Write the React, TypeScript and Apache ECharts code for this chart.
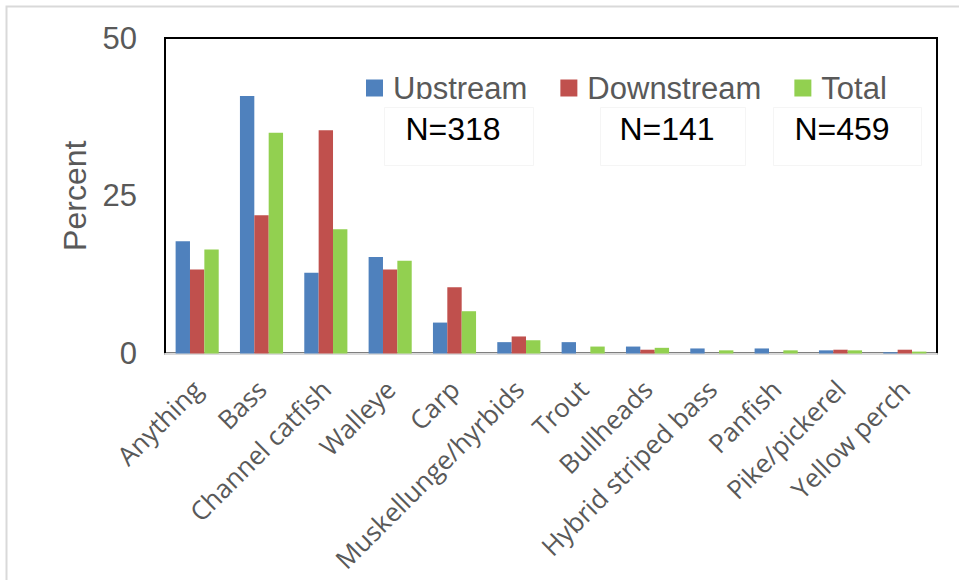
import React, { useEffect, useRef } from "react";
import * as echarts from "echarts";

// Species targeted by anglers, percent of respondents
const categories = [
  "Anything",
  "Bass",
  "Channel catfish",
  "Walleye",
  "Carp",
  "Muskellunge/hyrbids",
  "Trout",
  "Bullheads",
  "Hybrid striped bass",
  "Panfish",
  "Pike/pickerel",
  "Yellow perch",
];

const upstream = [17.8, 40.8, 12.8, 15.3, 4.9, 1.8, 1.8, 1.1, 0.8, 0.8, 0.5, 0.2];
const downstream = [13.3, 21.9, 35.4, 13.3, 10.5, 2.7, 0, 0.6, 0, 0, 0.6, 0.6];
const total = [16.5, 35.0, 19.7, 14.7, 6.7, 2.1, 1.1, 0.9, 0.5, 0.5, 0.5, 0.3];

const seriesNames = ["Upstream", "Downstream", "Total"];
const sampleSizes = ["N=318", "N=141", "N=459"];
const yTicks = [0, 25, 50];

const COLORS = ["#4F81BD", "#C0504D", "#92D050"];
const GREY_TEXT = "#595959";
const SANS = "'Liberation Sans', Arial, sans-serif";
const LABEL_FONT = "'Open Sans', 'Noto Sans', sans-serif";

export default function App() {
  const ref = useRef<HTMLDivElement>(null);

  useEffect(() => {
    if (!ref.current) return;
    const chart = echarts.init(ref.current, null, { renderer: "svg" });

    const seriesData = [upstream, downstream, total];

    // white text boxes holding the sample sizes, laid over the legend row
    const boxes = [
      { x: 383, w: 152, cx: 453 },
      { x: 599, w: 148, cx: 667 },
      { x: 772, w: 151, cx: 842 },
    ];

    chart.setOption({
      animation: false,
      backgroundColor: "#ffffff",
      grid: {
        left: 165,
        top: 38,
        width: 772,
        height: 315.5,
        show: true,
        borderColor: "#000000",
        borderWidth: 2,
        backgroundColor: "transparent",
      },
      legend: {
        data: seriesNames,
        left: 366,
        top: 71,
        padding: 0,
        itemWidth: 17,
        itemHeight: 17,
        itemGap: 33,
        icon: "rect",
        textStyle: {
          fontFamily: SANS,
          fontSize: 31,
          color: GREY_TEXT,
          padding: [0, 0, 0, 5],
          lineHeight: 34,
        },
      },
      xAxis: {
        type: "category",
        data: categories,
        axisLine: { show: true, lineStyle: { color: "#d9d9d9", width: 2 } },
        axisTick: { show: false },
        axisLabel: {
          rotate: 45,
          interval: 0,
          margin: 31,
          fontFamily: LABEL_FONT,
          fontSize: 26,
          color: GREY_TEXT,
        },
        splitLine: { show: false },
      },
      yAxis: {
        type: "value",
        min: yTicks[0],
        max: yTicks[yTicks.length - 1],
        interval: 25,
        name: "Percent",
        nameLocation: "middle",
        nameGap: 74,
        nameRotate: 90,
        nameTextStyle: {
          fontFamily: SANS,
          fontSize: 32,
          color: GREY_TEXT,
        },
        axisLine: { show: true, lineStyle: { color: "#000000", width: 2 } },
        axisTick: { show: false },
        axisLabel: {
          margin: 28,
          fontFamily: SANS,
          fontSize: 31,
          color: GREY_TEXT,
        },
        splitLine: { show: false },
      },
      series: seriesNames.map((name, i) => ({
        name,
        type: "bar",
        data: seriesData[i],
        barGap: "0%",
        barCategoryGap: "33%",
        itemStyle: { color: COLORS[i] },
      })),
      graphic: [
        {
          type: "rect",
          z: 0,
          silent: true,
          shape: { x: 6.5, y: 6.5, width: 960, height: 580 },
          style: { fill: "none", stroke: "#d9d9d9", lineWidth: 2 },
        },
        ...boxes.map((b) => ({
          type: "rect",
          z: 20,
          silent: true,
          shape: { x: b.x, y: 99, width: b.w, height: 67 },
          style: { fill: "#ffffff", stroke: "none" },
        })),
        ...boxes.map((b) => ({
          type: "rect",
          z: 21,
          silent: true,
          shape: { x: b.x + 1.5, y: 107.5, width: b.w - 3, height: 58 },
          style: { fill: "none", stroke: "#f5f5f5", lineWidth: 1 },
        })),
        ...boxes.map((b, i) => ({
          type: "text",
          z: 22,
          silent: true,
          x: b.cx,
          y: 128.7,
          style: {
            text: sampleSizes[i],
            fill: "#000000",
            fontFamily: SANS,
            fontSize: 32,
            align: "center",
            verticalAlign: "middle",
          },
        })),
      ],
    });

    return () => chart.dispose();
  }, []);

  return (
    <div
      ref={ref}
      style={{ position: "absolute", left: 0, top: 0, width: 959, height: 580 }}
    />
  );
}
